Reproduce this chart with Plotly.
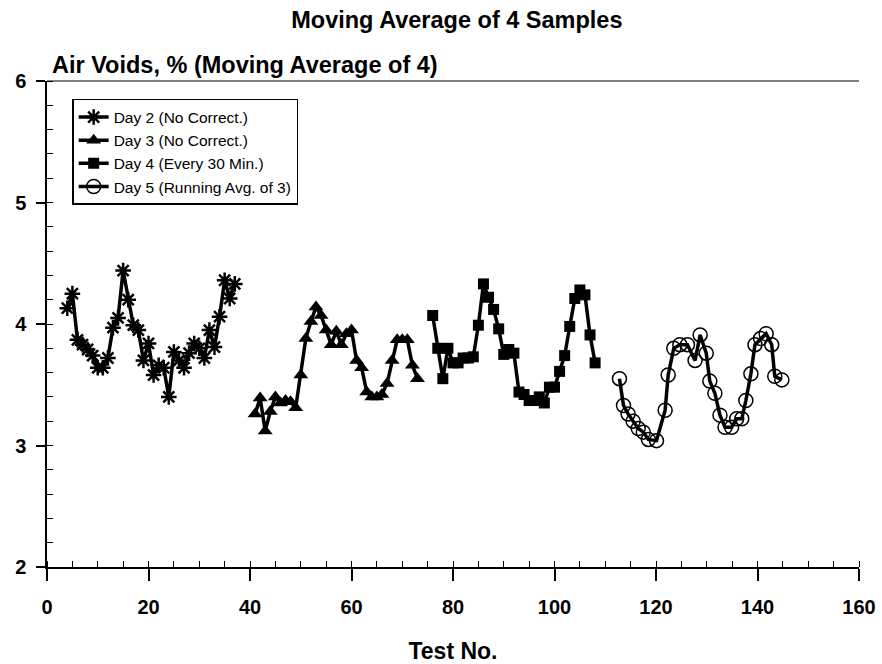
import plotly.graph_objects as go

# ---- data ----
day2_x = list(range(4, 38))
day2_y = [4.13, 4.25, 3.87, 3.83, 3.79, 3.74, 3.64, 3.64, 3.72, 3.97, 4.05, 4.44,
          4.20, 3.99, 3.95, 3.70, 3.84, 3.58, 3.66, 3.64, 3.40, 3.77, 3.70, 3.64,
          3.76, 3.84, 3.80, 3.72, 3.95, 3.81, 4.06, 4.36, 4.21, 4.33]

day3_x = list(range(41, 74))
day3_y = [3.26, 3.39, 3.12, 3.28, 3.40, 3.35, 3.37, 3.36, 3.31, 3.58, 3.88, 4.02,
          4.14, 4.07, 3.95, 3.83, 3.94, 3.83, 3.92, 3.95, 3.70, 3.64, 3.44, 3.40,
          3.40, 3.42, 3.51, 3.70, 3.87, 3.87, 3.87, 3.66, 3.55]

day4_x = list(range(76, 109))
day4_y = [4.07, 3.80, 3.55, 3.80, 3.68, 3.68, 3.72, 3.72, 3.73, 3.99, 4.33, 4.22,
          4.12, 3.96, 3.75, 3.79, 3.76, 3.44, 3.42, 3.37, 3.37, 3.40, 3.35, 3.48,
          3.48, 3.61, 3.74, 3.98, 4.21, 4.28, 4.24, 3.91, 3.68]

day5_x = [112.8, 113.6, 114.5, 115.5, 116.5, 117.5, 118.5, 120.1, 121.8, 122.4,
          123.5, 124.7, 126.2, 127.7, 128.7, 129.9, 130.6, 131.6, 132.6, 133.6,
          134.9, 135.9, 136.9, 137.7, 138.7, 139.5, 140.6, 141.7, 142.8, 143.4, 144.8]
day5_y = [3.55, 3.33, 3.26, 3.20, 3.14, 3.11, 3.05, 3.04, 3.29, 3.58,
          3.80, 3.83, 3.83, 3.70, 3.91, 3.76, 3.53, 3.43, 3.25, 3.15,
          3.15, 3.22, 3.22, 3.37, 3.59, 3.83, 3.88, 3.92, 3.83, 3.57, 3.54]

series_names = ["Day 2 (No Correct.)", "Day 3 (No Correct.)",
                "Day 4 (Every 30 Min.)", "Day 5 (Running Avg. of 3)"]

FONT = "Liberation Sans, Arial, sans-serif"

fig = go.Figure()
fig.add_trace(go.Scatter(x=day2_x, y=day2_y, mode="lines+markers", name=series_names[0],
                         line=dict(color="black", width=3.5),
                         marker=dict(symbol="asterisk-open", size=13,
                                     line=dict(color="black", width=2.5))))
fig.add_trace(go.Scatter(x=day3_x, y=day3_y, mode="lines+markers", name=series_names[1],
                         line=dict(color="black", width=3.5),
                         marker=dict(symbol="triangle-up", size=13, color="black")))
fig.add_trace(go.Scatter(x=day4_x, y=day4_y, mode="lines+markers", name=series_names[2],
                         line=dict(color="black", width=3.5),
                         marker=dict(symbol="square", size=11, color="black")))
fig.add_trace(go.Scatter(x=day5_x, y=day5_y, mode="lines+markers", name=series_names[3],
                         line=dict(color="black", width=3.5),
                         marker=dict(symbol="circle-open", size=14,
                                     line=dict(color="black", width=1.5))))

fig.update_layout(
    width=882, height=664,
    margin=dict(l=47, r=23, t=81, b=97),
    paper_bgcolor="white", plot_bgcolor="white",
    font=dict(family=FONT, color="black", size=18),
    title=dict(text="Moving Average of 4 Samples", x=0.518, xanchor="center",
               y=0.97, yanchor="middle", font=dict(size=23.5, weight="bold")),
    showlegend=True,
    legend=dict(x=0.031, y=0.963, xanchor="left", yanchor="top",
                bgcolor="white", bordercolor="black", borderwidth=1.5,
                font=dict(size=15.5), itemwidth=30, tracegroupgap=0),
    xaxis=dict(range=[0, 160], tickvals=[0, 20, 40, 60, 80, 100, 120, 140, 160],
               automargin=False,
               showgrid=False, zeroline=False, showline=True, linecolor="black",
               linewidth=1.5, mirror=False, ticks="outside", ticklen=12, tickwidth=1.5,
               tickcolor="black", ticklabelstandoff=9,
               minor=dict(dtick=5, ticks="inside", ticklen=6, tickwidth=1, tickcolor="black"),
               title=dict(text="Test No.", standoff=30, font=dict(size=23, weight="bold")),
               tickfont=dict(size=20, weight="bold")),
    yaxis=dict(range=[2, 6], tickvals=[2, 3, 4, 5, 6],
               automargin=False,
               showgrid=False, zeroline=False, showline=True, linecolor="black",
               linewidth=1.5, ticks="outside", ticklen=9, tickwidth=1.5,
               tickcolor="black", ticklabelstandoff=6,
               minor=dict(dtick=0.2, ticks="inside", ticklen=6, tickwidth=1, tickcolor="black"),
               tickfont=dict(size=20, weight="bold")),
)

# top border line of plot area
fig.add_shape(type="line", xref="paper", yref="paper", x0=0, x1=1, y0=1, y1=1,
              line=dict(color="black", width=1))

fig.add_annotation(text="Air Voids, % (Moving Average of 4)", xref="paper", yref="paper",
                   x=0.004, y=1.0, xanchor="left", yanchor="bottom", yshift=1,
                   showarrow=False, font=dict(size=23.5, weight="bold"))

fig.write_html("out.html")
